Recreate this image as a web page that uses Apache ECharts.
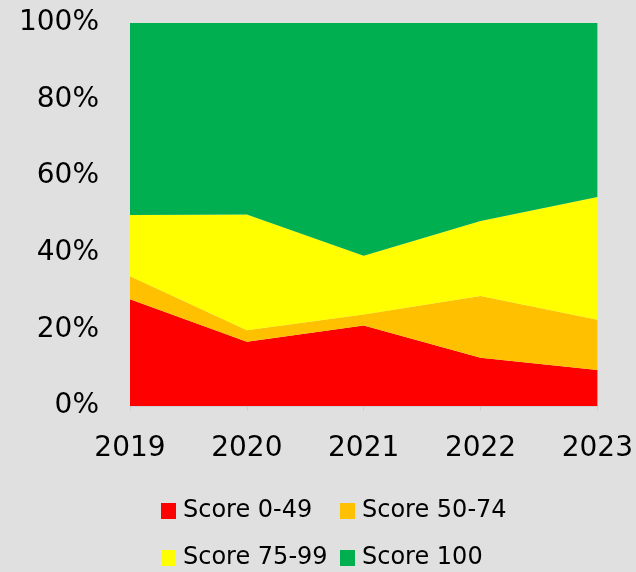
<!DOCTYPE html>
<html lang="en">
<head>
    <meta charset="UTF-8">
    <title>Score distribution</title>
    <style>
        html, body { margin: 0; padding: 0; background: #e0e0e0; }
        #chart { width: 636px; height: 572px; }
    </style>
</head>
<body>
    <div id="chart"></div>
    <script src="https://cdn.jsdelivr.net/npm/echarts@6/dist/echarts.min.js"></script>
    <script>
        const years = ['2019', '2020', '2021', '2022', '2023']
        const score0to49 = [27.9, 16.8, 21.0, 12.6, 9.4]
        const score50to74 = [6.0, 3.0, 2.9, 16.1, 13.1]
        const score75to99 = [16.0, 30.2, 15.3, 19.6, 32.1]
        const score100 = [50.1, 50.0, 60.8, 51.7, 45.4]

        const names = ['Score 0-49', 'Score 50-74', 'Score 75-99', 'Score 100']
        const colors = ['#ff0000', '#ffc000', '#ffff00', '#00b050']
        const values = [score0to49, score50to74, score75to99, score100]

        const font = 'DejaVu Sans'
        // one legend per item so the two columns line up
        const legendPos = [[156, 494], [335, 494], [156, 541], [335, 541]]

        const chart = echarts.init(document.getElementById('chart'))
        chart.setOption({
            backgroundColor: '#e0e0e0',
            animation: false,
            grid: { left: 130, right: 38, top: 23, bottom: 166 },
            legend: names.map((n, i) => ({
                data: [n],
                left: legendPos[i][0],
                top: legendPos[i][1],
                icon: 'rect',
                itemWidth: 15,
                itemHeight: 16,
                itemGap: 0,
                textStyle: { fontFamily: font, fontSize: 24, color: '#000', padding: [0, 0, 0, 2] }
            })),
            xAxis: {
                type: 'category',
                data: years,
                boundaryGap: false,
                axisLine: { lineStyle: { color: '#cfcfcf' } },
                axisTick: { show: true, length: 5, lineStyle: { color: '#cfcfcf' } },
                axisLabel: { fontFamily: font, fontSize: 28, color: '#000', margin: 29 }
            },
            yAxis: {
                type: 'value',
                min: 0,
                max: 100,
                interval: 20,
                splitLine: { show: false },
                axisLine: { show: false },
                axisLabel: {
                    fontFamily: font, fontSize: 28, color: '#000', margin: 31,
                    formatter: v => v + '%'
                }
            },
            series: names.map((n, i) => ({
                name: n,
                type: 'line',
                stack: 'total',
                data: values[i],
                symbol: 'none',
                lineStyle: { width: 0 },
                areaStyle: { color: colors[i], opacity: 1 },
                itemStyle: { color: colors[i] }
            }))
        })
    </script>
</body>
</html>
